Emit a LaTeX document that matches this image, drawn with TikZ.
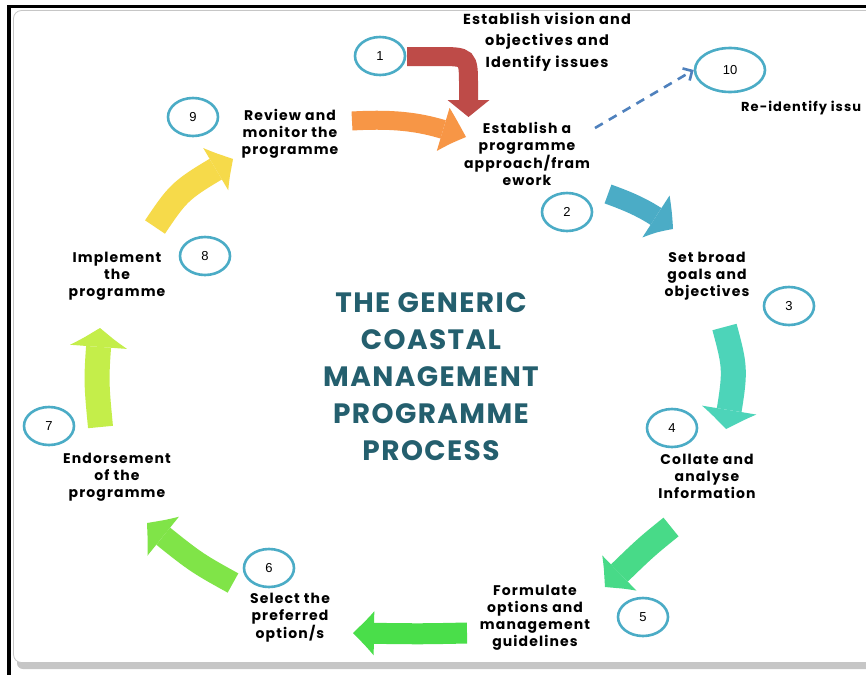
\documentclass[tikz,border=0pt]{standalone}
\usepackage{fontspec}
\setmainfont{Poppins}[LetterSpace=8]
\newfontfamily\titlefont{Poppins}[LetterSpace=5]
\newfontfamily\numfont{Liberation Sans}
\usetikzlibrary{arrows.meta,bending,shapes.geometric}
\definecolor{circc}{HTML}{4BACC6}
\definecolor{titlec}{HTML}{245F6E}
\definecolor{cred}{HTML}{BE4B48}
\definecolor{corange}{HTML}{F79646}
\definecolor{cblue}{HTML}{4BACC6}
\definecolor{cturq}{HTML}{4DD4B9}
\definecolor{cgreenA}{HTML}{48DA88}
\definecolor{cgreenB}{HTML}{4ADE4A}
\definecolor{cgreenC}{HTML}{80E448}
\definecolor{cyg}{HTML}{C4EE4A}
\definecolor{cyel}{HTML}{F6DA4A}
\definecolor{cdash}{HTML}{4F81BD}
\begin{document}
\begin{tikzpicture}[x=1pt,y=-1pt,
  numc/.style={ellipse,draw=circc,line width=2.6pt,fill=white,minimum width=50pt,minimum height=38pt,inner sep=0pt,font=\numfont\fontsize{13}{15}\selectfont},
  lbl/.style={align=center,inner sep=0pt,font=\bfseries\fontsize{14}{17}\selectfont},
  blk/.style={line width=#1,line cap=butt},
]
\useasboundingbox (0,0) rectangle (866,675);
% frame
\fill[black] (7,4.5) rectangle (866,8);
\fill[black] (7,4.5) rectangle (10.5,675);
\fill[gray!45,rounded corners=6pt] (17,16) rectangle (880,669);
\filldraw[fill=white,draw=gray!45,line width=0.8pt,rounded corners=8pt] (13.5,10.5) rectangle (880,662.5);

% step circles
\node[numc] (n1) at (380,56) {1};
\node[numc] (n2) at (567,212) {2};
\node[numc] (n3) at (789,306) {3};
\node[numc] (n4) at (672,428) {4};
\node[numc] (n5) at (643,617) {5};
\node[numc] (n6) at (269,568) {6};
\node[numc] (n7) at (49,426) {7};
\node[numc] (n8) at (205,256) {8};
\node[numc] (n9) at (193,117) {9};
\node[numc,minimum width=70pt,minimum height=44pt] (n10) at (730,70) {10};

% labels
\node[lbl,font=\bfseries\fontsize{14.5}{21.5}\selectfont] (t1) at (547,42) {Establish vision and\\objectives and\\Identify issues};
\node[lbl,font=\bfseries\fontsize{14}{17.5}\selectfont] (t2) at (527,154) {Establish a\\programme\\approach/fram\\ework};
\node[lbl] (t3) at (707,276) {Set broad\\goals and\\objectives};
\node[lbl] (t4) at (707,476) {Collate and\\analyse\\Information};
\node[lbl] (t5) at (535,618) {Formulate\\options and\\management\\guidelines};
\node[lbl] (t6) at (290,618) {Select the\\preferred\\option/s};
\node[lbl] (t7) at (117,477) {Endorsement\\of the\\programme};
\node[lbl] (t8) at (117,276) {Implement\\the\\programme};
\node[lbl] (t9) at (290,134) {Review and\\monitor the\\programme};
\node[lbl,anchor=west,font=\bfseries\fontsize{13}{17}\selectfont] (t10) at (741,108) {Re-identify issu};

% title
\node[align=center,text=titlec,font=\titlefont\bfseries\fontsize{28}{37}\selectfont] (title) at (431,377) {THE GENERIC\\COASTAL\\MANAGEMENT\\PROGRAMME\\PROCESS};

% block arrows
\coordinate (a1s) at (407,56.5);
\coordinate (a1e) at (468.5,117);
\draw[blk=19pt,cred,-{Triangle[width=42pt,length=17pt,line width=0pt]}] (a1s) -- (438,56.5) .. controls (468.5,56.5) .. (468.5,86) -- (a1e);

\coordinate (a2s) at (352,121);
\coordinate (a2e) at (466,137);
\draw[blk=19pt,corange,-{Triangle[width=45pt,length=25pt,line width=0pt,bend]}] (a2s) .. controls (405,118) and (430,124) .. (a2e);

\coordinate (a3s) at (608,194);
\coordinate (a3e) at (673,229);
\draw[blk=20pt,cblue,-{Triangle[width=50pt,length=22pt,line width=0pt,bend]}] (a3s) .. controls (630,202) and (650,210) .. (a3e);

\coordinate (a4s) at (724.5,327);
\coordinate (a4e) at (726,429);
\draw[blk=25pt,cturq,-{Triangle[width=55pt,length=20pt,line width=0pt,bend]}] (a4s) .. controls (736,370) .. (a4e);

\coordinate (a5s) at (671,527);
\coordinate (a5e) at (605,587);
\draw[blk=24pt,cgreenA,-{Triangle[width=49pt,length=21pt,line width=0pt,bend]}] (a5s) .. controls (645,548) .. (a5e);

\coordinate (a6s) at (467,633);
\coordinate (a6e) at (353,633);
\draw[blk=21pt,cgreenB,-{Triangle[width=44pt,length=22pt,line width=0pt,bend]}] (a6s) .. controls (420,634) .. (a6e);

\coordinate (a7s) at (233,583);
\coordinate (a7e) at (147,523);
\draw[blk=22pt,cgreenC,-{Triangle[width=50pt,length=22pt,line width=0pt,bend]}] (a7s) .. controls (195,562) .. (a7e);

\coordinate (a8s) at (100.5,427);
\coordinate (a8e) at (100,328);
\draw[blk=25pt,cyg,-{Triangle[width=57pt,length=20pt,line width=0pt,bend]}] (a8s) .. controls (96,380) .. (a8e);

\coordinate (a9s) at (155,227);
\coordinate (a9e) at (233,159);
\draw[blk=24pt,cyel,-{Triangle[width=49pt,length=21pt,line width=0pt,bend]}] (a9s) .. controls (180,190) .. (a9e);

% dashed arrow to 10
\coordinate (d1) at (595,128);
\draw[cdash,line width=2.6pt,dash pattern=on 9pt off 7pt,-{Straight Barb[length=7pt,width=14pt,line width=2.6pt]}] (d1) -- (n10.west);
\end{tikzpicture}
\end{document}
